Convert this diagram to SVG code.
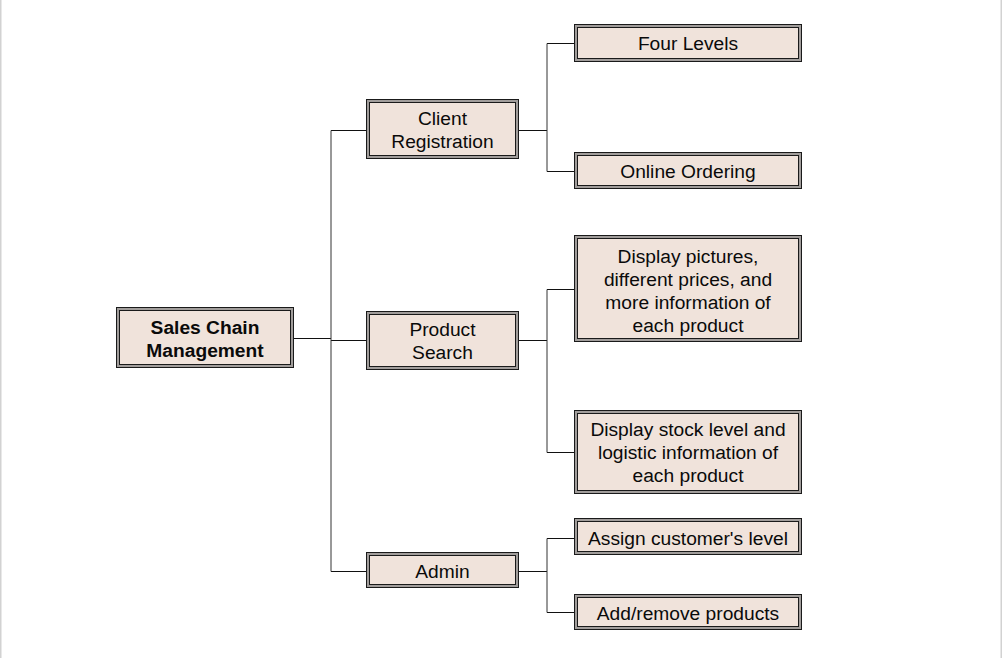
<svg xmlns="http://www.w3.org/2000/svg" width="1002" height="658" viewBox="0 0 1002 658">
<style>
.o{fill:#f0e3db;stroke:#1a1a1a;stroke-width:1}
.g{fill:none;stroke:#a19d9b;stroke-width:2}
.i{fill:none;stroke:#1a1a1a;stroke-width:1}
text{font-family:"Liberation Sans",Arial,sans-serif;font-size:19.2px;fill:#0a0a0a;text-anchor:middle}
.b{font-weight:bold}
.h{fill:none;stroke:#111;stroke-width:1}
.v{fill:none;stroke:#333;stroke-width:1}
.edge{fill:none;stroke:#d2d2d2;stroke-width:1.5}
</style>
<rect width="1002" height="658" fill="#fff"/>
<path class="edge" d="M0.75 0V658M1001.25 0V658"/>
<g id="connectors">
<path class="h" d="M294 338.5H331M331 130.5H367M331 340.5H367M331 571.5H367"/>
<path class="v" d="M331 130.5V571.5"/>
<path class="h" d="M519 130.5H547M547 43.5H575M547 171.5H575"/>
<path class="v" d="M547 43.5V171.5"/>
<path class="h" d="M519 340.5H547M547 289.5H575M547 452.5H575"/>
<path class="v" d="M547 289.5V452.5"/>
<path class="h" d="M519 571.5H547M547 538.5H575M547 612.5H575"/>
<path class="v" d="M547 538.5V612.5"/>
</g>
<g id="root">
<rect class="o" x="116.5" y="307.5" width="177" height="60"/>
<rect class="g" x="118" y="309" width="174" height="57"/>
<rect class="i" x="119.5" y="310.5" width="171" height="54"/>
<text class="b" x="205" y="334">Sales Chain</text>
<text class="b" x="205" y="357">Management</text>
</g>
<g id="client-registration">
<rect class="o" x="366.5" y="99.5" width="152" height="59"/>
<rect class="g" x="368" y="101" width="149" height="56"/>
<rect class="i" x="369.5" y="102.5" width="146" height="53"/>
<text x="442.5" y="125">Client</text>
<text x="442.5" y="148">Registration</text>
</g>
<g id="product-search">
<rect class="o" x="366.5" y="311.5" width="152" height="58"/>
<rect class="g" x="368" y="313" width="149" height="55"/>
<rect class="i" x="369.5" y="314.5" width="146" height="52"/>
<text x="442.5" y="335.5">Product</text>
<text x="442.5" y="358.5">Search</text>
</g>
<g id="admin">
<rect class="o" x="366.5" y="552.5" width="152" height="35"/>
<rect class="g" x="368" y="554" width="149" height="32"/>
<rect class="i" x="369.5" y="555.5" width="146" height="29"/>
<text x="442.5" y="577.5">Admin</text>
</g>
<g id="four-levels">
<rect class="o" x="574.5" y="24.5" width="227" height="37"/>
<rect class="g" x="576" y="26" width="224" height="34"/>
<rect class="i" x="577.5" y="27.5" width="221" height="31"/>
<text x="688" y="49.5">Four Levels</text>
</g>
<g id="online-ordering">
<rect class="o" x="574.5" y="152.5" width="227" height="36"/>
<rect class="g" x="576" y="154" width="224" height="33"/>
<rect class="i" x="577.5" y="155.5" width="221" height="30"/>
<text x="688" y="177.5">Online Ordering</text>
</g>
<g id="display-pictures">
<rect class="o" x="574.5" y="235.5" width="227" height="106"/>
<rect class="g" x="576" y="237" width="224" height="103"/>
<rect class="i" x="577.5" y="238.5" width="221" height="100"/>
<text x="688" y="262.5">Display pictures,</text>
<text x="688" y="285.8">different prices, and</text>
<text x="688" y="309">more information of</text>
<text x="688" y="332.3">each product</text>
</g>
<g id="display-stock">
<rect class="o" x="574.5" y="410.5" width="227" height="83"/>
<rect class="g" x="576" y="412" width="224" height="80"/>
<rect class="i" x="577.5" y="413.5" width="221" height="77"/>
<text x="688" y="435.5">Display stock level and</text>
<text x="688" y="458.7">logistic information of</text>
<text x="688" y="482">each product</text>
</g>
<g id="assign-level">
<rect class="o" x="574.5" y="518.5" width="227" height="36"/>
<rect class="g" x="576" y="520" width="224" height="33"/>
<rect class="i" x="577.5" y="521.5" width="221" height="30"/>
<text x="688" y="544.5">Assign customer's level</text>
</g>
<g id="add-remove">
<rect class="o" x="574.5" y="594.5" width="227" height="35"/>
<rect class="g" x="576" y="596" width="224" height="32"/>
<rect class="i" x="577.5" y="597.5" width="221" height="29"/>
<text x="688" y="619.5">Add/remove products</text>
</g>
</svg>
